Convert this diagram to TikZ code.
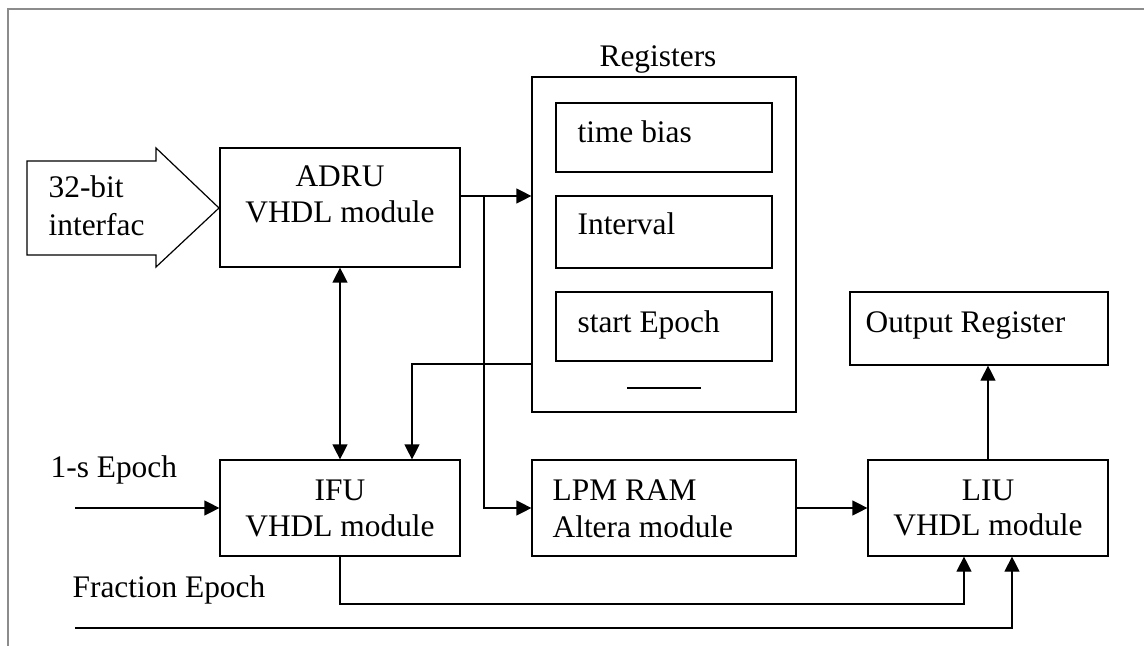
\documentclass[tikz,border=0pt]{standalone}
\usepackage{fontspec}
\setmainfont{Liberation Serif}
\usetikzlibrary{arrows.meta}
\definecolor{framegray}{RGB}{140,140,140}
\begin{document}
\begin{tikzpicture}[x=0.5pt,y=-0.5pt, line width=0.6pt,
  bx/.style 2 args={draw, line width=0.6pt, minimum width=#1*0.5pt, minimum height=#2*0.5pt, inner sep=0pt},
  lbl/.style={inner sep=0pt, font=\fontsize{15.7}{18.3}\selectfont},
  arr/.style={-{Triangle[length=7.5pt,width=7.5pt]}},
  arrtwo/.style={{Triangle[length=7.5pt,width=7.5pt]}-{Triangle[length=7.5pt,width=7.5pt]}},
  pageframe/.style={draw=framegray, line width=1pt}]
\useasboundingbox (0,0) rectangle (1144,646);
% page frame (top and left edges)
\draw[pageframe] (8,646) -- (8,9) -- (1144,9);

% block arrow
\draw[fill=white] (27,161) -- (156,161) -- (156,148) -- (219,208) -- (156,267) -- (156,255) -- (27,255) -- cycle;
\node[lbl, anchor=base west] (t32a) at (48,198) {32-bit};
\node[lbl, anchor=base west] (t32b) at (48,236) {interfac};

% boxes
\node[bx={240}{119}] (ADRU) at (340,207.5) {};
\node[bx={264}{335}] (Reg) at (664,244.5) {};
\node[bx={216}{69}] (TB) at (664,137.5) {};
\node[bx={216}{72}] (IV) at (664,232) {};
\node[bx={216}{69}] (SE) at (664,326.5) {};
\node[bx={258}{73}] (OR) at (979,328.5) {};
\node[bx={240}{96}] (IFU) at (340,508) {};
\node[bx={264}{96}] (LPM) at (664,508) {};
\node[bx={240}{96}] (LIU) at (988,508) {};

% texts
\node[lbl, anchor=base] (tADRU1) at (340,187) {ADRU};
\node[lbl, anchor=base] (tADRU2) at (340,223) {VHDL module};
\node[lbl, anchor=base] (tReg) at (658,67) {Registers};
\node[lbl, anchor=base west] (tTB) at (577,143) {time bias};
\node[lbl, anchor=base west] (tIV) at (577,235) {Interval};
\node[lbl, anchor=base west] (tSE) at (577,332) {start Epoch};
\node[lbl, anchor=base west] (tOR) at (865,332) {Output Register};
\node[lbl, anchor=base] (tIFU1) at (340,500) {IFU};
\node[lbl, anchor=base] (tIFU2) at (340,536) {VHDL module};
\node[lbl, anchor=base west] (tLPM1) at (552,500) {LPM RAM};
\node[lbl, anchor=base west] (tLPM2) at (552,537) {Altera module};
\node[lbl, anchor=base] (tLIU1) at (988,500) {LIU};
\node[lbl, anchor=base] (tLIU2) at (988,535) {VHDL module};
\node[lbl, anchor=base west] (t1s) at (50,477) {1-s Epoch};
\node[lbl, anchor=base west] (tFE) at (72,597) {Fraction Epoch};

% small line inside registers
\coordinate (d1) at (627,388);
\coordinate (d2) at (701,388);
\draw (d1) -- (d2);

% connectors
\coordinate (j1) at (484,196);
\coordinate (r1) at (532,364);
\coordinate (r2) at (412,364);
\coordinate (in1) at (75,508);
\coordinate (in2) at (75,628);
\coordinate (f1) at (964,604);
\coordinate (f2) at (1012,628);

\draw[arr] (ADRU.east |- j1) -- (Reg.west |- j1);
\draw[arr] (j1) |- (LPM.west);
\draw[arrtwo] (ADRU.south) -- (IFU.north);
\draw[arr] (r1) -- (r2) -- (r2 |- IFU.north);
\draw[arr] (LPM.east) -- (LIU.west);
\draw[arr] (LIU.north) -- (LIU.north |- OR.south);
\draw[arr] (in1) -- (IFU.west);
\draw[arr] (IFU.south) |- (f1) -- (f1 |- LIU.south);
\draw[arr] (in2) -- (f2) -- (f2 |- LIU.south);
\end{tikzpicture}
\end{document}
